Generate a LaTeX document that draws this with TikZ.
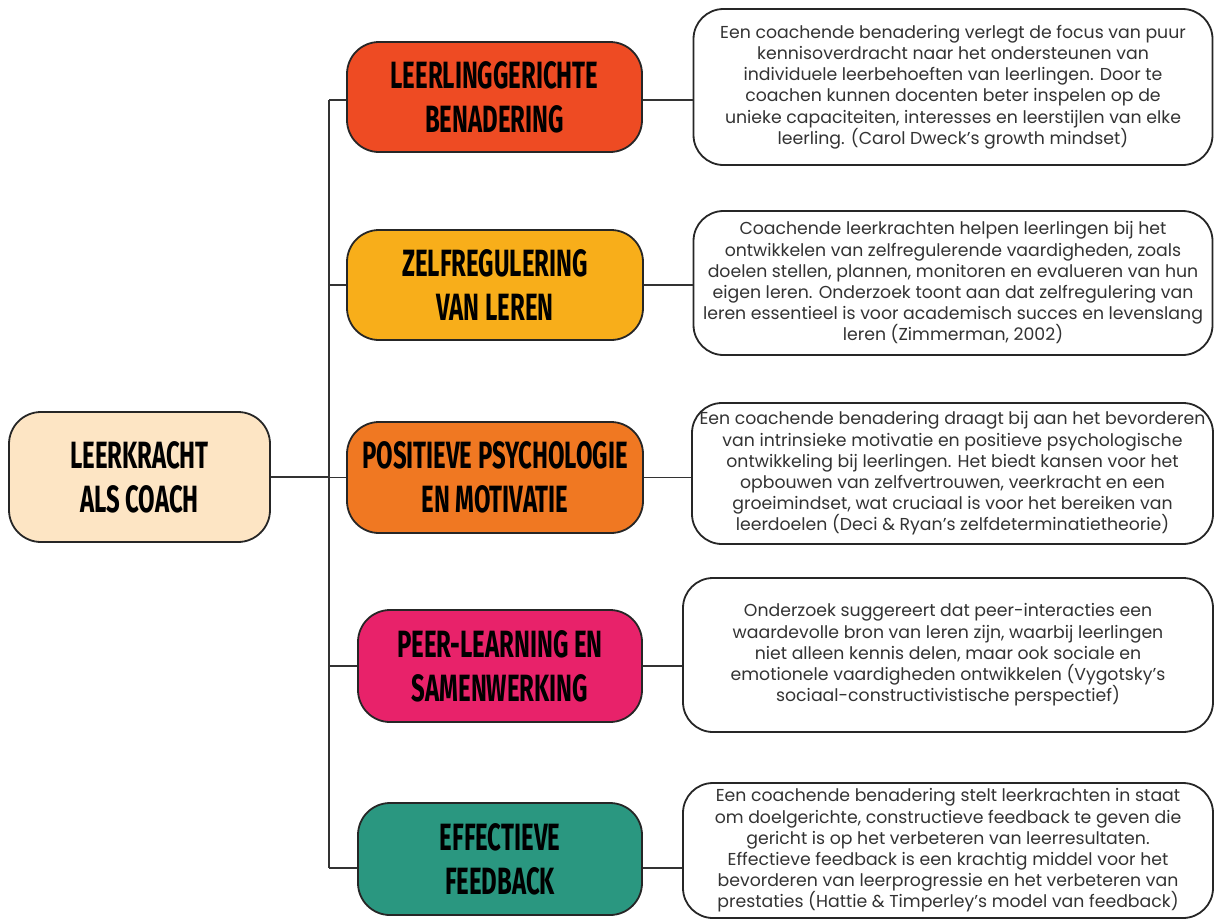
\documentclass[tikz,border=0pt]{standalone}
\usepackage{fontspec}
\setmainfont{Poppins}
\newfontfamily\headfont[FakeStretch=0.63]{Fira Sans}

\definecolor{peach}{HTML}{FDE5C4}
\definecolor{redorange}{HTML}{EE4B23}
\definecolor{amber}{HTML}{F8AE1A}
\definecolor{orange}{HTML}{F07822}
\definecolor{pink}{HTML}{E8226A}
\definecolor{teal}{HTML}{2A9780}
\definecolor{textgray}{HTML}{333333}

\begin{document}
\begin{tikzpicture}[x=1pt, y=-1pt,
	hub/.style={draw=black!85, line width=1.8pt, rounded corners=32pt, inner sep=0pt, align=center, font=\headfont\bfseries\fontsize{38}{44}\selectfont},
	info/.style={draw=black!85, line width=1.8pt, rounded corners=30pt, fill=white, inner sep=0pt, align=center, text=textgray, font=\fontsize{17.3}{21.2}\selectfont},
	link/.style={black!80, line width=1.8pt}]
	\useasboundingbox (0, 0) rectangle (1217, 921);

	\coordinate (top) at (329, 100);
	\coordinate (bot) at (329, 868);

	\node[hub, fill=peach, minimum width=261pt, minimum height=130pt] (coach) at (139.5, 477) {LEERKRACHT\\ALS COACH};

	\node[hub, fill=redorange, minimum width=295pt, minimum height=110pt] (lgb) at (494.5, 97) {LEERLINGGERICHTE\\BENADERING};
	\node[hub, fill=amber, minimum width=296pt, minimum height=110pt] (zvl) at (495, 285) {ZELFREGULERING\\VAN LEREN};
	\node[hub, fill=orange, minimum width=296pt, minimum height=111pt] (ppm) at (495, 477.5) {POSITIEVE PSYCHOLOGIE\\EN MOTIVATIE};
	\node[hub, fill=pink, minimum width=284pt, minimum height=112pt] (pls) at (500, 666) {PEER-LEARNING EN\\SAMENWERKING};
	\node[hub, fill=teal, minimum width=284pt, minimum height=112pt] (efb) at (500, 859) {EFFECTIEVE\\FEEDBACK};

	\node[info, minimum width=519pt, minimum height=156pt] (d1) at (953, 87) {Een coachende benadering verlegt de focus van puur\\kennisoverdracht naar het ondersteunen van\\individuele leerbehoeften van leerlingen. Door te\\coachen kunnen docenten beter inspelen op de\\unieke capaciteiten, interesses en leerstijlen van elke\\leerling. (Carol Dweck's growth mindset)};
	\node[info, minimum width=519pt, minimum height=144pt] (d2) at (953, 283) {Coachende leerkrachten helpen leerlingen bij het\\ontwikkelen van zelfregulerende vaardigheden, zoals\\doelen stellen, plannen, monitoren en evalueren van hun\\eigen leren. Onderzoek toont aan dat zelfregulering van\\leren essentieel is voor academisch succes en levenslang\\leren (Zimmerman, 2002)};
	\node[info, minimum width=521pt, minimum height=141pt] (d3) at (952.5, 473.5) {Een coachende benadering draagt bij aan het bevorderen\\van intrinsieke motivatie en positieve psychologische\\ontwikkeling bij leerlingen. Het biedt kansen voor het\\opbouwen van zelfvertrouwen, veerkracht en een\\groeimindset, wat cruciaal is voor het bereiken van\\leerdoelen (Deci \& Ryan's zelfdeterminatietheorie)};
	\node[info, minimum width=530pt, minimum height=154pt] (d4) at (948, 655) {Onderzoek suggereert dat peer-interacties een\\waardevolle bron van leren zijn, waarbij leerlingen\\niet alleen kennis delen, maar ook sociale en\\emotionele vaardigheden ontwikkelen (Vygotsky's\\sociaal-constructivistische perspectief)};
	\node[info, minimum width=530pt, minimum height=135pt] (d5) at (948, 850.5) {Een coachende benadering stelt leerkrachten in staat\\om doelgerichte, constructieve feedback te geven die\\gericht is op het verbeteren van leerresultaten.\\Effectieve feedback is een krachtig middel voor het\\bevorderen van leerprogressie en het verbeteren van\\prestaties (Hattie \& Timperley's model van feedback)};

	\draw[link] (top) -- (bot);
	\draw[link] (coach.east) -- (coach.east -| top);
	\draw[link] (top) -- (top -| lgb.west);
	\draw[link] (zvl.west) -- (zvl.west -| top);
	\draw[link] (ppm.west) -- (ppm.west -| top);
	\draw[link] (pls.west) -- (pls.west -| top);
	\draw[link] (bot) -- (bot -| efb.west);

	\draw[link] (top -| lgb.east) -- (top -| d1.west);
	\draw[link] (zvl.east) -- (zvl.east -| d2.west);
	\draw[link] (ppm.east) -- (ppm.east -| d3.west);
	\draw[link] (pls.east) -- (pls.east -| d4.west);
	\draw[link] (bot -| efb.east) -- (bot -| d5.west);
\end{tikzpicture}
\end{document}
